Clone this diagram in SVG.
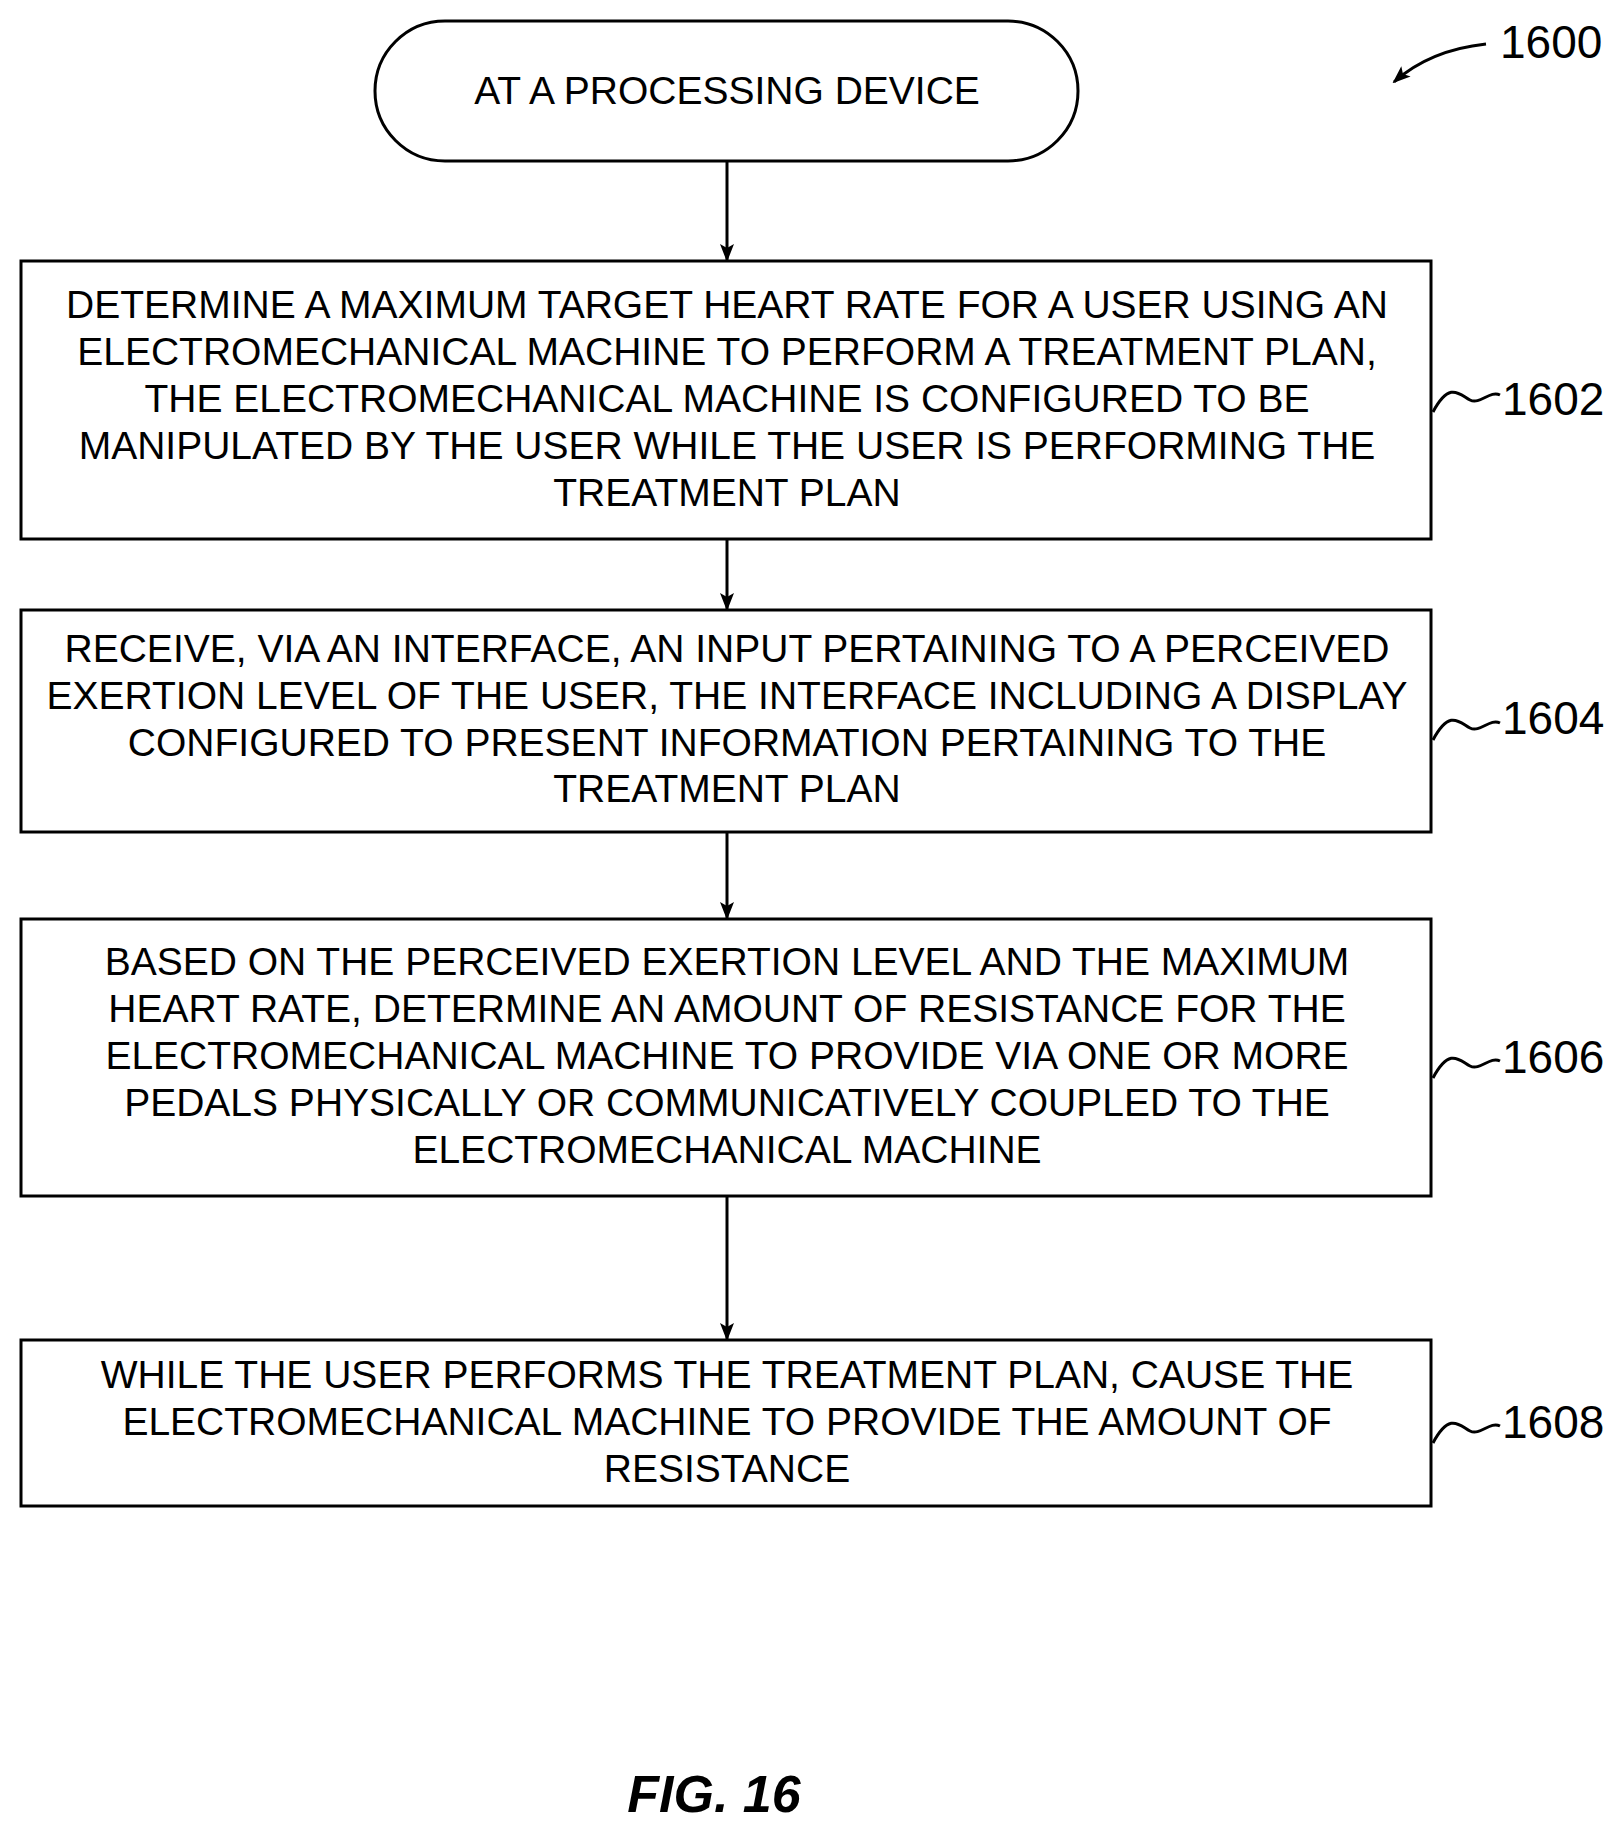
<svg xmlns="http://www.w3.org/2000/svg" width="1623" height="1837" viewBox="0 0 1623 1837">
<style>
.b{fill:#fff;stroke:#000;stroke-width:3}
.t{font-family:"Liberation Sans",Arial,sans-serif;font-size:39px;text-anchor:middle;fill:#000}
.l{font-family:"Liberation Sans",Arial,sans-serif;font-size:46px;fill:#000}
.c{stroke:#000;stroke-width:3;fill:none}
</style>
<defs><marker id="a" markerWidth="18" markerHeight="18" refX="16" refY="7" orient="auto" markerUnits="userSpaceOnUse" viewBox="0 0 18 14"><path d="M0,0 L18,7 L0,14 L4,7 Z" fill="#000"/></marker></defs>
<rect width="1623" height="1837" fill="#fff"/>
<g id="connectors">
<line class="c" x1="727" y1="161" x2="727" y2="260" marker-end="url(#a)"/>
<line class="c" x1="727" y1="539" x2="727" y2="609" marker-end="url(#a)"/>
<line class="c" x1="727" y1="832" x2="727" y2="918" marker-end="url(#a)"/>
<line class="c" x1="727" y1="1196" x2="727" y2="1339" marker-end="url(#a)"/>
<path class="c" d="M1486,44 Q1430,50 1394,82" marker-end="url(#a)"/>
</g>
<g id="n1600"><text class="l" x="1500" y="58">1600</text></g>
<g id="start"><rect class="b" x="375" y="21" width="703" height="140" rx="70"/><text class="t" x="727" y="104" font-size="40">AT A PROCESSING DEVICE</text></g>
<g id="n1602"><rect class="b" x="21" y="261" width="1410" height="278"/>
<text class="t" x="727" y="318">DETERMINE A MAXIMUM TARGET HEART RATE FOR A USER USING AN</text>
<text class="t" x="727" y="365">ELECTROMECHANICAL MACHINE TO PERFORM A TREATMENT PLAN,</text>
<text class="t" x="727" y="412">THE ELECTROMECHANICAL MACHINE IS CONFIGURED TO BE</text>
<text class="t" x="727" y="459">MANIPULATED  BY THE USER WHILE THE USER IS PERFORMING THE</text>
<text class="t" x="727" y="506">TREATMENT PLAN</text>
<path class="c" d="M1433,412 C1450,380 1460,395 1470,400 C1480,405 1490,390 1500,395"/><text class="l" x="1502" y="415">1602</text></g>
<g id="n1604"><rect class="b" x="21" y="610" width="1410" height="222"/>
<text class="t" x="727" y="662">RECEIVE, VIA AN INTERFACE, AN INPUT PERTAINING TO A PERCEIVED</text>
<text class="t" x="727" y="709">EXERTION LEVEL OF THE USER, THE INTERFACE INCLUDING A DISPLAY</text>
<text class="t" x="727" y="756">CONFIGURED TO PRESENT INFORMATION PERTAINING TO THE</text>
<text class="t" x="727" y="802">TREATMENT PLAN</text>
<path class="c" d="M1433,740 C1450,708 1460,723 1470,728 C1480,733 1490,718 1500,723"/><text class="l" x="1502" y="734">1604</text></g>
<g id="n1606"><rect class="b" x="21" y="919" width="1410" height="277"/>
<text class="t" x="727" y="975">BASED ON THE PERCEIVED EXERTION LEVEL AND THE MAXIMUM</text>
<text class="t" x="727" y="1022">HEART RATE, DETERMINE AN AMOUNT OF RESISTANCE FOR THE</text>
<text class="t" x="727" y="1069">ELECTROMECHANICAL MACHINE TO PROVIDE VIA ONE OR MORE</text>
<text class="t" x="727" y="1116">PEDALS PHYSICALLY OR COMMUNICATIVELY COUPLED TO THE</text>
<text class="t" x="727" y="1163">ELECTROMECHANICAL MACHINE</text>
<path class="c" d="M1433,1078 C1450,1046 1460,1061 1470,1066 C1480,1071 1490,1056 1500,1061"/><text class="l" x="1502" y="1073">1606</text></g>
<g id="n1608"><rect class="b" x="21" y="1340" width="1410" height="166"/>
<text class="t" x="727" y="1388">WHILE THE USER PERFORMS THE TREATMENT PLAN, CAUSE THE</text>
<text class="t" x="727" y="1435">ELECTROMECHANICAL MACHINE TO PROVIDE THE AMOUNT OF</text>
<text class="t" x="727" y="1482">RESISTANCE</text>
<path class="c" d="M1433,1443 C1450,1411 1460,1426 1470,1431 C1480,1436 1490,1421 1500,1426"/><text class="l" x="1502" y="1438">1608</text></g>
<text x="714" y="1812" font-family="Liberation Sans,Arial,sans-serif" font-size="52" font-weight="bold" font-style="italic" text-anchor="middle">FIG. 16</text>
</svg>
